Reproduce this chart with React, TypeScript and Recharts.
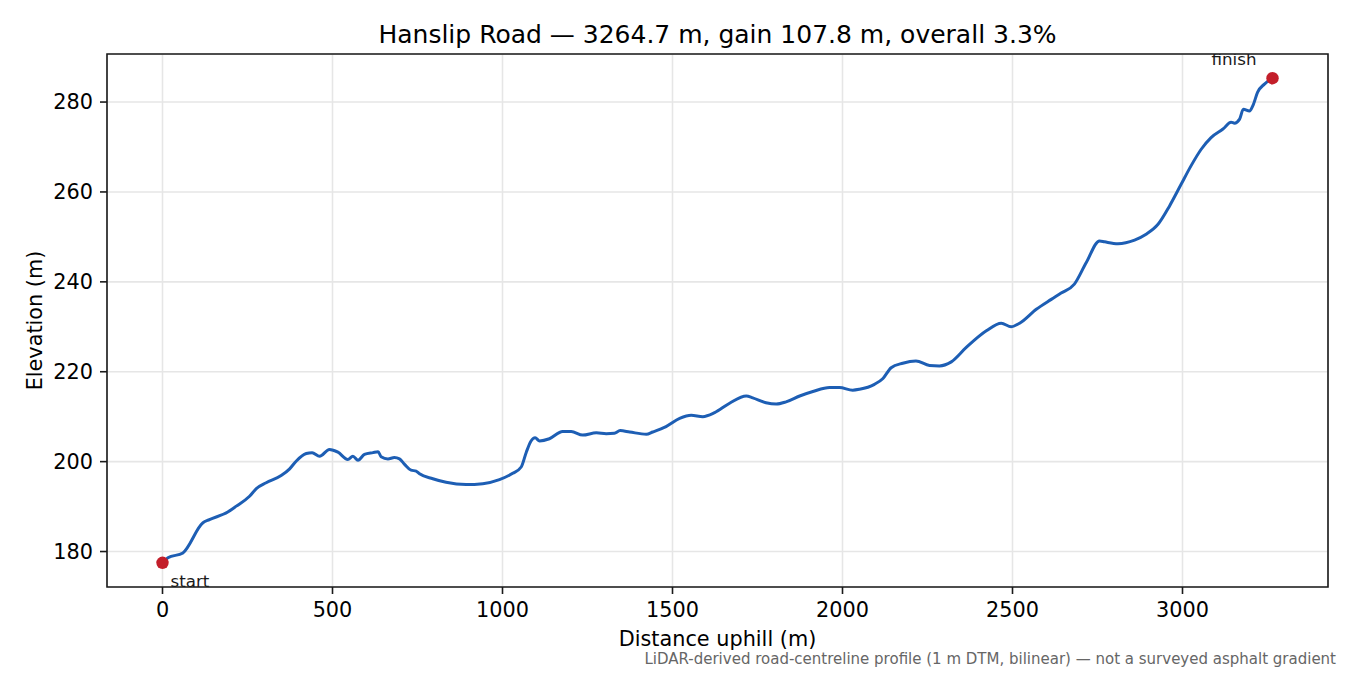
import React from 'react';
import {
  ComposedChart,
  Line,
  Scatter,
  XAxis,
  YAxis,
  CartesianGrid,
  ReferenceArea
} from 'recharts';

// distance along the road (m) and elevation (m)
const distance = [
  0, 16, 60, 119, 138, 192, 217, 256, 276, 305, 349, 374, 393, 423, 440, 462, 491, 516,
  545, 560, 575, 594, 619, 634, 643, 663, 682, 697, 712, 731, 746, 756, 795, 834, 893,
  942, 991, 1030, 1055, 1070, 1084, 1096, 1109, 1138, 1177, 1202, 1236, 1276, 1305, 1329,
  1346, 1374, 1423, 1442, 1481, 1521, 1555, 1589, 1624, 1668, 1717, 1736, 1775, 1805,
  1834, 1874, 1913, 1962, 1991, 2030, 2050, 2094, 2119, 2143, 2177, 2216, 2256, 2285,
  2320, 2364, 2423, 2467, 2496, 2521, 2570, 2614, 2643, 2682, 2717, 2756, 2771, 2810,
  2859, 2893, 2928, 2962, 2996, 3025, 3055, 3084, 3119, 3143, 3153, 3168, 3179, 3197,
  3207, 3221, 3241, 3264.7
];

const elevation = [
  177.5, 178.6, 179.7, 186.4, 187.1, 188.8, 190.1, 192.3, 194.0, 195.3, 196.9, 198.4,
  200.1, 201.8, 202.0, 201.2, 202.7, 202.1, 200.5, 201.2, 200.3, 201.6, 202.0, 202.2,
  201.1, 200.6, 200.9, 200.6, 199.4, 198.1, 197.9, 197.3, 196.2, 195.4, 194.9, 195.1,
  196.0, 197.4, 198.8, 202.1, 204.6, 205.3, 204.6, 205.1, 206.7, 206.7, 205.9, 206.4,
  206.2, 206.3, 206.9, 206.6, 206.1, 206.6, 207.8, 209.6, 210.3, 210.0, 210.9, 213.0,
  214.6, 214.2, 213.1, 212.8, 213.3, 214.6, 215.6, 216.5, 216.5, 215.9, 216.1, 217.2,
  218.5, 220.9, 221.9, 222.4, 221.4, 221.3, 222.2, 225.4, 229.1, 230.8, 230.0, 230.8,
  233.9, 236.1, 237.5, 239.5, 244.3, 249.1, 248.9, 248.5, 249.3, 250.6, 252.8, 256.9,
  261.7, 265.8, 269.5, 272.1, 274.0, 275.5, 275.3, 276.2, 278.4, 278.0, 279.2, 282.2,
  284.0, 285.3
];

const xTicks = [0, 500, 1000, 1500, 2000, 2500, 3000];
const yTicks = [180, 200, 220, 240, 260, 280];
const endpointNames = ['start', 'finish'];

const totalLength = 3264.7;
const minElev = 177.5;
const maxElev = 285.3;
const xPad = totalLength * 0.05;
const yPad = (maxElev - minElev) * 0.05;
const xDomain = [-xPad, totalLength + xPad];
const yDomain = [minElev - yPad, maxElev + yPad];

const profile = distance.map((d, i) => ({ d, elev: elevation[i] }));
const endpoints = [
  { d: distance[0], elev: elevation[0], name: endpointNames[0] },
  { d: distance[distance.length - 1], elev: elevation[elevation.length - 1], name: endpointNames[1] }
];

const FONT = '"DejaVu Sans", sans-serif';

const EndpointDot = (props: any) => {
  const { cx, cy, payload } = props;
  const isStart = payload.name === 'start';
  return (
    <g>
      <circle cx={cx} cy={cy} r={6.2} fill="#c31e2a" />
      <text
        x={isStart ? cx + 8 : cx - 16}
        y={isStart ? cy + 24 : cy - 13}
        textAnchor={isStart ? 'start' : 'end'}
        fontSize={16.7}
        fontFamily={FONT}
        fill="#1a1a1a"
      >
        {payload.name}
      </text>
    </g>
  );
};

const App: React.FC = () => {
  const tickStyle = { fontSize: 20.8, fontFamily: FONT, fill: '#000' };
  return (
    <div style={{ position: 'absolute', left: 0, top: 0, width: 1350, height: 675, background: '#fff' }}>
      <ComposedChart
        width={1350}
        height={675}
        data={profile}
        margin={{ top: 54, right: 22, bottom: 58, left: 47 }}
      >
        <CartesianGrid stroke="#e6e6e6" strokeWidth={1.6} />
        <XAxis
          dataKey="d"
          type="number"
          domain={xDomain}
          ticks={xTicks}
          allowDataOverflow
          height={30}
          axisLine={false}
          tickLine={{ stroke: '#1a1a1a', strokeWidth: 1.6 }}
          tickSize={7}
          tickMargin={8}
          tick={tickStyle}
        />
        <YAxis
          dataKey="elev"
          type="number"
          domain={yDomain}
          ticks={yTicks}
          allowDataOverflow
          width={60}
          axisLine={false}
          tickLine={{ stroke: '#1a1a1a', strokeWidth: 1.6 }}
          tickSize={7}
          tickMargin={7}
          tick={tickStyle}
        />
        <Line
          type="monotone"
          dataKey="elev"
          stroke="#1d5eb4"
          strokeWidth={3}
          dot={false}
          isAnimationActive={false}
        />
        <Scatter
          data={endpoints}
          dataKey="elev"
          shape={<EndpointDot />}
          isAnimationActive={false}
        />
        <ReferenceArea
          x1={xDomain[0]}
          x2={xDomain[1]}
          y1={yDomain[0]}
          y2={yDomain[1]}
          fill="none"
          stroke="#1a1a1a"
          strokeWidth={1.6}
          fillOpacity={0}
          ifOverflow="visible"
        />
      </ComposedChart>

      <svg
        width={1350}
        height={675}
        style={{ position: 'absolute', left: 0, top: 0, pointerEvents: 'none' }}
        fontFamily={FONT}
      >
        <text x={717.5} y={43} textAnchor="middle" fontSize={25} fill="#000">
          Hanslip Road — 3264.7 m, gain 107.8 m, overall 3.3%
        </text>
        <text
          x={0}
          y={0}
          transform="translate(42, 320.5) rotate(-90)"
          textAnchor="middle"
          fontSize={20.8}
          fill="#000"
        >
          Elevation (m)
        </text>
        <text x={717.5} y={646} textAnchor="middle" fontSize={20.8} fill="#000">
          Distance uphill (m)
        </text>
        <text x={1336} y={664} textAnchor="end" fontSize={15} fill="#666">
          LiDAR-derived road-centreline profile (1 m DTM, bilinear) — not a surveyed asphalt gradient
        </text>
      </svg>
    </div>
  );
};

export default App;
